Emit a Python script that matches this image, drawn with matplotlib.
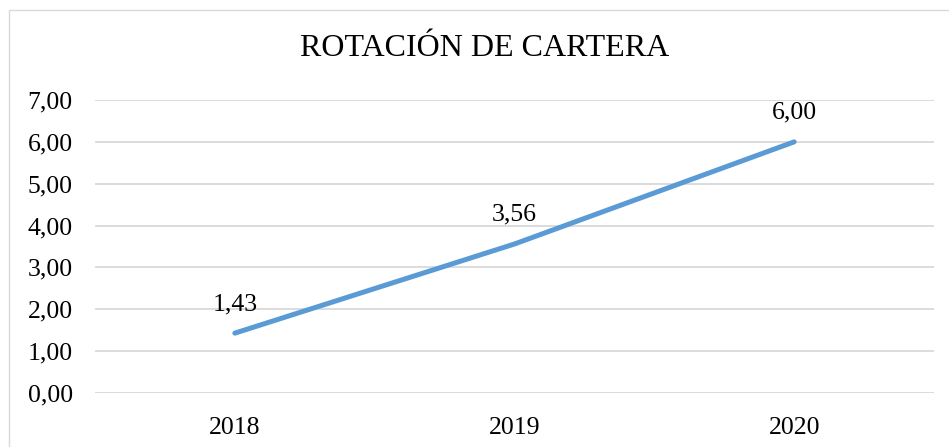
import matplotlib.pyplot as plt
from matplotlib.patches import Rectangle

years = ["2018", "2019", "2020"]
rotacion = [1.43, 3.56, 6.00]
y_ticks = [0, 1, 2, 3, 4, 5, 6, 7]

plt.rcParams['font.family'] = ['Liberation Serif', 'DejaVu Serif']

fig = plt.figure(figsize=(9.49, 4.47), dpi=100)
# plot area in pixels: x 95..934, y 100..393
ax = fig.add_axes((95 / 949, (447 - 393) / 447, 839 / 949, 293 / 447))

# outer chart border (left + top only visible)
fig.patches.append(Rectangle((9 / 949, -0.1), 1.0, (447 - 10) / 447 + 0.1,
                             transform=fig.transFigure, fill=False,
                             edgecolor='#d9d9d9', linewidth=1.0))

x = list(range(len(years)))
ax.plot(x, rotacion, color='#5b9bd5', linewidth=3.6, solid_capstyle='round')

for xi, v in zip(x, rotacion):
    ax.annotate(f"{v:.2f}".replace('.', ','), (xi, v), xytext=(0, 13),
                textcoords='offset points', ha='center', va='bottom',
                fontsize=18.5, color='#000000')

ax.set_xlim(-0.5, 2.5)
ax.set_ylim(0, 7)
ax.set_xticks(x)
ax.set_xticklabels(years)
ax.set_yticks(y_ticks)
ax.set_yticklabels([f"{t:.2f}".replace('.', ',') for t in y_ticks])
ax.tick_params(axis='both', length=0, labelsize=18.5, colors='#000000')
ax.tick_params(axis='y', pad=16)
ax.tick_params(axis='x', pad=17)

ax.grid(axis='y', color='#d9d9d9', linewidth=1.3)
ax.set_axisbelow(True)
for s in ax.spines.values():
    s.set_visible(False)

fig.text(485 / 949, 1 - 49 / 447, "ROTACIÓN DE CARTERA", ha='center', va='center',
         fontsize=23, color='#000000')

fig.savefig("out.png", dpi=100)
